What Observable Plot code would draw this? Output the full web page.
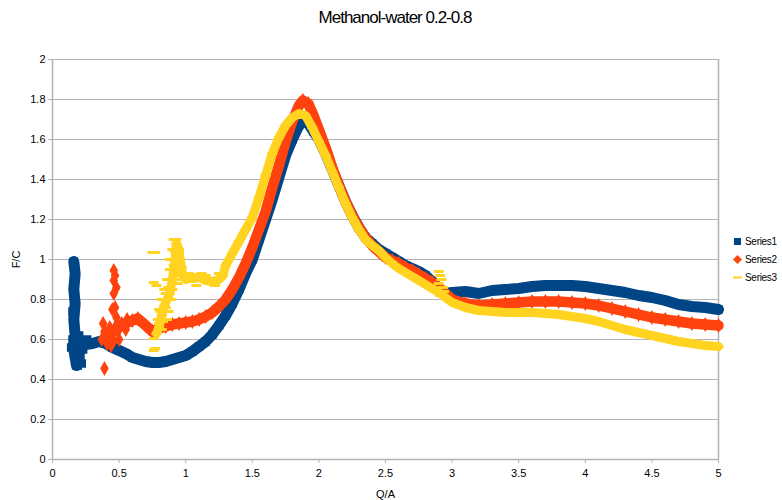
<!DOCTYPE html>
<html><head><meta charset="utf-8">
<script src="https://cdn.jsdelivr.net/npm/d3@7"></script>
<script src="https://cdn.jsdelivr.net/npm/@observablehq/plot@0.6"></script>
<style>
body{margin:0;background:#fff;font-family:"Liberation Sans",Arial,sans-serif;}
#wrap{position:relative;width:782px;height:500px;overflow:hidden;background:#fff}
#title{position:absolute;top:8px;left:4px;width:782px;text-align:center;font-size:17px;letter-spacing:-1px;color:#000}
#legend{position:absolute;left:733px;top:232px;font-size:10px;letter-spacing:-0.3px;color:#000}
.item{display:flex;align-items:center;height:18px;white-space:nowrap}
.item svg{margin-right:3px}
</style></head><body>
<div id="wrap"><div id="chart"></div><div id="title">Methanol-water 0.2-0.8</div><div id="legend"></div></div>
<script>
const seriesNames = ["Series1", "Series2", "Series3"];
const colors = ["#004586", "#ff420e", "#ffd320"];
const xTicks = [0, 0.5, 1, 1.5, 2, 2.5, 3, 3.5, 4, 4.5, 5];
const yTicks = [0, 0.2, 0.4, 0.6, 0.8, 1, 1.2, 1.4, 1.6, 1.8, 2];

// Series1 (blue squares) – main trace
const series1 = [[0.16,0.99],[0.17,0.93],[0.16,0.85],[0.17,0.78],[0.16,0.7],[0.17,0.62],[0.16,0.55],[0.18,0.47],[0.19,0.5],[0.2,0.56],[0.25,0.575],[0.3,0.58],[0.35,0.59],[0.4,0.58],[0.45,0.56],[0.5,0.545],[0.55,0.53],[0.6,0.51],[0.65,0.5],[0.7,0.49],[0.75,0.485],[0.8,0.485],[0.85,0.49],[0.9,0.5],[0.95,0.51],[1.0,0.52],[1.05,0.54],[1.1,0.565],[1.15,0.59],[1.2,0.625],[1.25,0.67],[1.3,0.72],[1.35,0.78],[1.4,0.85],[1.45,0.93],[1.5,1.0],[1.55,1.1],[1.6,1.2],[1.65,1.3],[1.7,1.41],[1.75,1.52],[1.8,1.6],[1.85,1.67],[1.88,1.69],[1.92,1.68],[1.96,1.64],[2.0,1.6],[2.05,1.53],[2.1,1.45],[2.15,1.37],[2.2,1.29],[2.25,1.22],[2.3,1.16],[2.35,1.11],[2.4,1.08],[2.45,1.05],[2.5,1.03],[2.55,1.01],[2.6,0.99],[2.65,0.97],[2.7,0.955],[2.75,0.94],[2.8,0.92],[2.85,0.89],[2.9,0.85],[2.95,0.83],[3.0,0.835],[3.1,0.84],[3.2,0.83],[3.3,0.845],[3.4,0.85],[3.5,0.855],[3.6,0.865],[3.7,0.87],[3.8,0.87],[3.9,0.87],[4.0,0.865],[4.1,0.855],[4.2,0.845],[4.3,0.835],[4.4,0.82],[4.5,0.81],[4.6,0.795],[4.7,0.775],[4.8,0.765],[4.9,0.76],[5.0,0.75]];
const series1Scatter = [[0.19,0.47],[0.22,0.48],[0.21,0.52],[0.23,0.55],[0.15,0.6],[0.15,0.74],[0.19,0.6],[0.26,0.6],[0.14,0.56],[0.2,0.62]];

// Series2 (orange diamonds)
const series2 = [[0.5,0.66],[0.55,0.68],[0.6,0.695],[0.64,0.705],[0.7,0.67],[0.75,0.64],[0.8,0.655],[0.85,0.665],[0.9,0.675],[0.95,0.68],[1.0,0.685],[1.05,0.69],[1.1,0.7],[1.15,0.715],[1.2,0.735],[1.25,0.765],[1.3,0.8],[1.35,0.85],[1.4,0.91],[1.45,0.98],[1.5,1.06],[1.55,1.15],[1.6,1.24],[1.65,1.36],[1.7,1.47],[1.75,1.59],[1.8,1.69],[1.85,1.77],[1.88,1.795],[1.92,1.78],[1.96,1.72],[2.0,1.65],[2.05,1.56],[2.1,1.46],[2.15,1.37],[2.2,1.29],[2.25,1.22],[2.3,1.16],[2.35,1.11],[2.4,1.07],[2.45,1.04],[2.5,1.01],[2.55,0.995],[2.6,0.98],[2.65,0.96],[2.7,0.945],[2.75,0.925],[2.8,0.905],[2.85,0.885],[2.9,0.86],[2.95,0.83],[3.0,0.8],[3.1,0.78],[3.2,0.77],[3.3,0.775],[3.4,0.78],[3.5,0.785],[3.6,0.79],[3.7,0.79],[3.8,0.79],[3.9,0.785],[4.0,0.78],[4.1,0.77],[4.2,0.755],[4.3,0.74],[4.4,0.725],[4.5,0.71],[4.6,0.7],[4.7,0.69],[4.8,0.68],[4.9,0.675],[5.0,0.67]];
const series2Scatter = [[0.39,0.455],[0.46,0.945],[0.47,0.92],[0.46,0.895],[0.48,0.86],[0.46,0.83],[0.47,0.76],[0.45,0.75],[0.48,0.71],[0.47,0.66],[0.45,0.63],[0.46,0.595],[0.38,0.68],[0.39,0.64],[0.37,0.6],[0.41,0.58],[0.42,0.62],[0.52,0.68],[0.55,0.65],[0.5,0.6],[0.44,0.57],[0.56,0.7],[0.43,0.66],[0.49,0.64]];

// Series3 (yellow dashes)
const series3 = [[0.78,0.63],[0.8,0.66],[0.82,0.72],[0.84,0.77],[0.86,0.8],[0.88,0.83],[0.9,0.9],[0.92,1.0],[0.93,1.08],[0.95,1.05],[0.96,0.98],[0.98,0.92],[1.0,0.9],[1.05,0.91],[1.1,0.91],[1.15,0.895],[1.2,0.89],[1.25,0.9],[1.28,0.92],[1.3,0.97],[1.35,1.03],[1.4,1.09],[1.45,1.15],[1.5,1.21],[1.55,1.31],[1.6,1.42],[1.65,1.53],[1.7,1.61],[1.75,1.67],[1.8,1.71],[1.85,1.73],[1.9,1.72],[1.95,1.66],[2.0,1.59],[2.05,1.52],[2.1,1.44],[2.15,1.36],[2.2,1.28],[2.25,1.21],[2.3,1.15],[2.35,1.1],[2.4,1.07],[2.45,1.045],[2.5,1.01],[2.55,0.98],[2.6,0.955],[2.65,0.935],[2.7,0.915],[2.75,0.895],[2.8,0.875],[2.85,0.855],[2.9,0.835],[2.95,0.81],[3.0,0.785],[3.1,0.76],[3.2,0.745],[3.3,0.74],[3.4,0.735],[3.5,0.735],[3.6,0.735],[3.7,0.73],[3.8,0.725],[3.9,0.715],[4.0,0.705],[4.1,0.69],[4.2,0.67],[4.3,0.65],[4.4,0.635],[4.5,0.62],[4.6,0.605],[4.7,0.59],[4.8,0.58],[4.9,0.57],[5.0,0.565]];
const series3Scatter = [[0.75,1.035],[0.77,1.035],[0.76,0.885],[0.78,0.87],[0.76,0.605],[0.77,0.555],[0.76,0.545],[0.8,0.75],[0.82,0.8],[0.84,0.85],[0.86,0.9],[0.88,0.95],[0.9,1.05],[0.91,1.1],[0.93,1.1],[0.92,0.95],[0.9,0.85],[0.94,0.88],[0.96,1.0],[0.86,0.7],[0.8,0.68],[0.82,0.65],[0.79,0.7],[0.81,0.74],[0.83,0.69],[0.85,0.76],[0.87,0.74],[0.85,0.83],[0.87,0.86],[0.89,0.8],[0.89,0.9],[0.88,1.0],[0.91,0.97],[0.92,1.04],[0.93,0.9],[0.95,0.93],[0.94,1.02],[0.96,0.92],[0.97,0.96],[1.02,0.93],[1.08,0.87],[1.15,0.92],[1.22,0.87],[1.05,0.89],[1.12,0.93],[1.18,0.88],[1.25,0.93],[2.9,0.94],[2.91,0.92],[2.92,0.9],[2.9,0.88],[2.93,0.86],[2.94,0.84],[2.91,0.82]];

const dash = {draw(ctx){ ctx.rect(-5, -1.5, 10, 3); }};
const fmt = d3.format("~g");
const grey = "#b3b3b3";

const chart = Plot.plot({
  width: 782, height: 500,
  marginLeft: 52, marginRight: 64, marginTop: 59, marginBottom: 41,
  style: {fontFamily: "'Liberation Sans', Arial, sans-serif", fontSize: "11px", background: "#fff", color: "#000"},
  x: {domain: [0, 5]},
  y: {domain: [0, 2]},
  marks: [
    Plot.gridY(yTicks, {stroke: grey, strokeOpacity: 1}),
    Plot.ruleX([0, 5], {stroke: grey, strokeWidth: 1.5}),
    Plot.ruleY([0], {stroke: grey, strokeWidth: 1.5}),
    Plot.axisX(xTicks, {tickSize: 4, stroke: grey, tickFormat: fmt, tickPadding: 6, label: "Q/A", labelAnchor: "center", labelArrow: "none"}),
    Plot.axisY(yTicks, {tickSize: 4, stroke: grey, tickFormat: fmt, tickPadding: 3, label: "F/C", labelAnchor: "center", labelArrow: "none", labelOffset: 40}),
    Plot.line(series1, {stroke: colors[0], strokeWidth: 11, strokeLinejoin: "round"}),
    Plot.dot(series1.concat(series1Scatter), {symbol: "square", r: 4.8, fill: colors[0]}),
    Plot.line(series2, {stroke: colors[1], strokeWidth: 10.5, strokeLinejoin: "round"}),
    Plot.dot(series2.concat(series2Scatter), {symbol: "diamond", r: 4.5, fill: colors[1]}),
    Plot.line(series3, {stroke: colors[2], strokeWidth: 9, strokeLinejoin: "round"}),
    Plot.dot(series3.concat(series3Scatter), {symbol: dash, fill: colors[2]})
  ]
});
document.getElementById("chart").append(chart);

const legend = document.getElementById("legend");
const shapes = [
  '<rect x="1" y="1" width="7" height="7" fill="' + colors[0] + '"/>',
  '<path d="M4.5 0 L9 4.5 L4.5 9 L0 4.5Z" fill="' + colors[1] + '"/>',
  '<rect x="0" y="3.5" width="9" height="2" fill="' + colors[2] + '"/>'
];
seriesNames.forEach((n, i) => {
  const div = document.createElement("div");
  div.className = "item";
  div.innerHTML = '<svg width="9" height="9">' + shapes[i] + '</svg><span>' + n + '</span>';
  legend.append(div);
});
</script>
</body></html>
